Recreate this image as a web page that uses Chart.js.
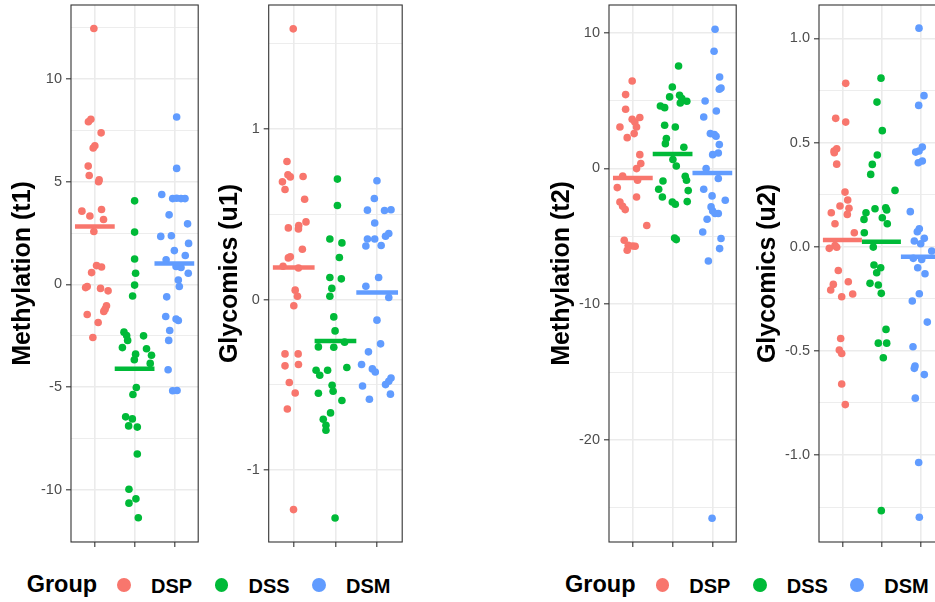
<!DOCTYPE html>
<html>
<head>
<meta charset="utf-8">
<script src="https://cdn.jsdelivr.net/npm/chart.js@4.4.1/dist/chart.umd.min.js"></script>
<style>
html,body{margin:0;padding:0;background:#fff;width:935px;height:602px;overflow:hidden;position:relative}
canvas{position:absolute;top:0}
.lg{position:absolute;font-family:'Liberation Sans',Arial,Helvetica,sans-serif;font-weight:bold;color:#000;white-space:nowrap}
.dot{position:absolute;border-radius:50%}
</style>
</head>
<body>
<canvas id="p1" width="202" height="560" style="left:0px"></canvas>
<canvas id="p2" width="208" height="560" style="left:198px"></canvas>
<canvas id="p3" width="202" height="560" style="left:538px"></canvas>
<canvas id="p4" width="200" height="560" style="left:748px"></canvas>
<script>
// ---------------- DATA ----------------
const groups = ['DSP', 'DSS', 'DSM'];
const groupColors = ['#F8766D', '#00BA38', '#619CFF'];
const legendTitle = 'Group';

// Panel 1 : Methylation (t1)
const t1Title = 'Methylation (t1)';
const t1Ticks = [-10, -5, 0, 5, 10];
const t1TickLabels = ['-10', '-5', '0', '5', '10'];
const t1Minor = [-12.5, -7.5, -2.5, 2.5, 7.5, 12.5];
const t1DSPx = [0.975,0.90,0.838,1.158,1.0,0.958,0.833,0.858,1.108,1.093,1.168,0.675,0.875,1.218,0.975,1.043,1.168,0.918,0.808,0.768,1.143,1.333,1.293,1.258,1.225,0.808,1.083,0.95];
const t1DSPy = [12.46,8.04,7.92,7.38,6.75,6.64,5.76,5.30,5.09,5.0,3.65,3.57,3.33,3.16,2.58,0.92,0.85,0.58,-0.10,-0.15,-0.19,-0.31,-1.04,-1.20,-1.31,-1.46,-1.85,-2.58];
const t1DSSx = [2.0,2.0,2.0,2.025,2.0,1.95,1.733,1.8,2.225,1.825,1.693,2.3,2.025,2.425,1.993,2.393,2.043,1.958,1.775,1.943,1.85,2.068,2.068,1.858,2.033,1.858,2.093];
const t1DSSy = [4.07,2.55,1.24,0.55,-0.03,-0.56,-2.32,-2.48,-2.50,-2.72,-3.07,-3.13,-3.39,-3.44,-3.66,-3.84,-5.01,-5.35,-6.44,-6.54,-6.88,-6.94,-8.25,-9.96,-10.43,-10.64,-11.35];
const t1DSMx = [3.058,3.058,2.683,2.958,3.058,3.168,3.268,2.868,3.333,2.658,2.925,3.358,3.0,3.275,2.793,3.043,3.168,3.35,3.1,3.125,2.808,2.783,3.043,3.1,2.883,2.858,2.843,2.958,3.068];
const t1DSMy = [8.15,5.65,4.38,4.18,4.20,4.18,4.18,3.39,2.95,2.34,2.37,2.0,1.65,1.41,1.20,0.88,0.83,0.55,0.22,-0.10,-0.60,-1.56,-1.68,-1.75,-2.24,-2.72,-4.15,-5.17,-5.16];
const t1Means = [2.82, -4.10, 1.02];

// Panel 2 : Glycomics (u1)
const u1Title = 'Glycomics (u1)';
const u1Ticks = [-1, 0, 1];
const u1TickLabels = ['-1', '0', '1'];
const u1Minor = [-0.5, 0.5, 1.5];
const u1DSPx = [0.988,0.838,0.861,0.918,0.729,1.224,0.791,1.261,1.294,1.12,1.113,0.871,1.207,0.918,0.871,0.744,1.113,1.035,1.089,1.002,0.791,1.106,0.791,1.113,0.894,1.035,0.847,0.995];
const u1DSPy = [1.587,0.809,0.731,0.719,0.690,0.721,0.645,0.588,0.455,0.434,0.414,0.42,0.295,0.25,0.244,0.195,0.185,0.055,0.019,-0.037,-0.319,-0.319,-0.389,-0.381,-0.487,-0.548,-0.642,-1.232];
const u1DSSx = [2.047,2.047,1.866,2.155,2.094,1.866,2.141,1.913,1.866,1.96,1.991,2.219,1.591,1.96,1.536,1.812,1.624,2.273,1.92,1.944,1.591,2.155,1.882,1.708,1.772,1.772,1.991];
const u1DSSy = [0.706,0.551,0.355,0.332,0.246,0.129,0.121,0.065,0.019,-0.102,-0.184,-0.25,-0.278,-0.280,-0.415,-0.415,-0.444,-0.399,-0.503,-0.538,-0.55,-0.592,-0.665,-0.702,-0.737,-0.767,-1.281];
const u1DSMx = [2.995,2.932,2.767,3.176,3.332,2.941,3.278,3.2,2.767,2.941,2.729,3.096,3.035,2.729,3.278,2.995,3.082,2.791,2.626,2.885,2.955,3.332,3.278,3.2,2.649,3.318,2.814];
const u1DSMy = [0.696,0.592,0.524,0.522,0.526,0.449,0.387,0.371,0.355,0.355,0.314,0.317,0.129,0.078,0.012,-0.121,-0.26,-0.307,-0.381,-0.407,-0.425,-0.46,-0.479,-0.499,-0.507,-0.555,-0.585];
const u1Means = [0.188, -0.243, 0.041];

// Panel 3 : Methylation (t2)
const t2Title = 'Methylation (t2)';
const t2Ticks = [-20, -10, 0, 10];
const t2TickLabels = ['-20', '-10', '0', '10'];
const t2Minor = [-25, -15, -5, 5];
const t2DSPx = [0.983,0.818,0.818,0.983,1.175,1.05,0.675,1.093,1.033,0.858,1.175,1.2,1.093,0.743,1.118,0.608,1.093,0.675,0.743,0.808,1.35,0.783,0.883,0.993,1.058,0.858];
const t2DSPy = [6.44,5.44,4.36,3.62,3.75,3.42,3.06,3.06,2.57,2.27,1.02,0.36,-0.01,-0.55,-0.87,-1.41,-2.10,-2.47,-2.78,-3.03,-4.20,-5.29,-5.66,-5.71,-5.73,-6.02];
const t2DSSx = [2.15,1.993,1.925,2.175,2.233,2.358,2.193,1.693,1.8,1.8,2.068,1.843,1.818,2.283,2.008,2.093,2.318,2.35,1.758,1.65,1.743,2.393,2.368,1.993,2.068,2.093,2.05];
const t2DSSy = [7.55,6.0,5.27,5.39,5.15,4.95,4.82,4.60,4.48,3.18,3.06,2.20,1.83,1.56,0.66,0.18,-0.57,-0.87,-0.92,-1.53,-2.10,-1.63,-2.44,-2.47,-2.64,-5.24,-5.12];
const t2DSMx = [3.068,3.043,3.183,3.218,3.175,2.818,3.1,2.783,2.95,3.05,3.093,3.175,3.15,3.008,2.843,3.15,2.783,2.993,3.325,2.968,3.008,3.15,3.068,2.868,2.758,3.218,3.183,2.9,2.993];
const t2DSMy = [10.25,8.63,6.74,5.93,5.83,4.97,4.23,3.79,2.57,2.50,2.37,1.76,1.14,1.02,-0.01,-0.74,-1.53,-2.02,-2.34,-2.83,-3.13,-3.32,-3.32,-3.74,-4.68,-5.16,-5.90,-6.81,-25.76];
const t2Means = [-0.70, 1.07, -0.33];

// Panel 4 : Glycomics (u2)
const u2Title = 'Glycomics (u2)';
const u2Ticks = [-1.0, -0.5, 0.0, 0.5, 1.0];
const u2TickLabels = ['-1.0', '-0.5', '0.0', '0.5', '1.0'];
const u2Minor = [-1.25, -0.75, -0.25, 0.25, 0.75];
const u2DSPx = [1.085,0.828,1.085,0.854,0.785,0.792,0.854,1.067,1.136,0.938,1.169,1.126,0.715,0.81,1.305,0.81,0.664,0.854,0.895,1.151,0.767,0.7,0.982,1.264,0.956,0.921,0.982,0.982,1.074];
const u2DSPy = [0.784,0.616,0.598,0.470,0.459,0.451,0.396,0.262,0.224,0.195,0.184,0.155,0.163,0.110,0.067,0.006,-0.008,-0.003,-0.114,-0.168,-0.181,-0.208,-0.240,-0.227,-0.441,-0.496,-0.513,-0.659,-0.758];
const u2DSSx = [1.99,1.887,2.023,1.895,1.767,1.726,2.349,1.836,2.11,2.136,1.605,1.554,2.023,2.151,1.562,1.792,1.81,1.982,1.879,1.708,1.921,1.997,2.118,1.921,2.136,2.049,1.997];
const u2DSSy = [0.809,0.694,0.557,0.440,0.395,0.347,0.270,0.182,0.187,0.176,0.163,0.131,0.139,0.110,0.067,-0.002,-0.088,-0.101,-0.125,-0.176,-0.184,-0.224,-0.397,-0.463,-0.463,-0.533,-1.267];
const u2DSMx = [2.964,3.092,2.956,3.049,2.879,2.964,3.049,2.946,2.741,2.972,2.921,2.844,3.1,3.008,3.29,2.818,3.033,2.931,3.118,2.972,2.792,3.177,2.81,2.862,2.844,3.1,2.869,2.956,2.972];
const u2DSMy = [1.049,0.725,0.678,0.478,0.454,0.459,0.411,0.403,0.168,0.086,0.072,0.027,0.040,0.014,-0.021,-0.056,-0.061,-0.101,-0.130,-0.226,-0.261,-0.362,-0.480,-0.573,-0.584,-0.614,-0.727,-1.036,-1.299];
const u2Means = [0.032, 0.024, -0.048];

// ---------------- CHARTS ----------------
Chart.defaults.font.family = "'Liberation Sans', Arial, Helvetica, sans-serif";
Chart.defaults.animation = false;

const panelBorder = {
  id: 'panelBorder',
  afterDatasetsDraw(chart) {
    const {ctx, chartArea: a} = chart;
    ctx.save();
    ctx.strokeStyle = '#333333';
    ctx.lineWidth = 1.1;
    ctx.strokeRect(a.left, a.top, a.right - a.left, a.bottom - a.top);
    ctx.restore();
  }
};

function makePanel(id, title, ticks, tickLabels, minor, xs, ys, means, yMin, yMax, axisW, padRight, titlePad) {
  const datasets = [];
  groups.forEach((g, i) => {
    datasets.push({
      type: 'line',
      label: g + ' mean',
      data: [{x: i + 1 - 0.5, y: means[i]}, {x: i + 1 + 0.5, y: means[i]}],
      borderColor: groupColors[i],
      borderWidth: 4.5,
      borderCapStyle: 'butt',
      pointRadius: 0,
      order: 0,
      clip: 0
    });
  });
  groups.forEach((g, i) => {
    datasets.push({
      type: 'scatter',
      label: g,
      data: xs[i].map((x, k) => ({x: x, y: ys[i][k]})),
      backgroundColor: groupColors[i],
      pointRadius: 3.8,
      pointBorderWidth: 0,
      pointHoverRadius: 3.8,
      order: 1
    });
  });
  const allY = ticks.concat(minor).sort((a, b) => a - b);
  return new Chart(document.getElementById(id), {
    type: 'scatter',
    data: {datasets},
    plugins: [panelBorder],
    options: {
      responsive: false,
      devicePixelRatio: 1,
      events: [],
      layout: {padding: {top: 5, right: padRight, bottom: 0, left: 0}},
      plugins: {legend: {display: false}, tooltip: {enabled: false}},
      scales: {
        x: {
          type: 'linear', min: 0.4, max: 3.6,
          afterBuildTicks: s => { s.ticks = groups.map((g, i) => ({value: i + 1})); },
          afterFit: s => { s.height = 18; s.paddingLeft = 0; s.paddingRight = 0; },
          ticks: {display: false},
          border: {display: false},
          grid: {color: '#ebebeb', lineWidth: 1.6, tickLength: 5, tickColor: '#333333', tickWidth: 1.1}
        },
        y: {
          type: 'linear', min: yMin, max: yMax,
          afterBuildTicks: s => { s.ticks = allY.map(v => ({value: v})); },
          afterFit: s => { s.width = axisW; s.paddingTop = 0; s.paddingBottom = 0; },
          border: {display: false},
          ticks: {
            color: '#4d4d4d', padding: 4, font: {size: 14.5},
            callback: v => { const k = ticks.indexOf(v); return k >= 0 ? tickLabels[k] : ''; }
          },
          grid: {
            color: '#ebebeb',
            lineWidth: c => (ticks.indexOf(c.tick && c.tick.value) >= 0 ? 1.6 : 0.9),
            tickLength: 5,
            tickWidth: 1.1,
            tickColor: c => (ticks.indexOf(c.tick && c.tick.value) >= 0 ? '#333333' : 'rgba(0,0,0,0)')
          },
          title: {
            display: true, text: title, color: '#000000',
            font: {size: 25, weight: 'bold', lineHeight: 1.2},
            padding: {top: titlePad, bottom: 0}
          }
        }
      }
    }
  });
}

makePanel('p1', t1Title, t1Ticks, t1TickLabels, t1Minor, [t1DSPx, t1DSSx, t1DSMx], [t1DSPy, t1DSSy, t1DSMy], t1Means, -12.53, 13.60, 71, 2.7, 8.5);
makePanel('p2', u1Title, u1Ticks, u1TickLabels, u1Minor, [u1DSPx, u1DSSx, u1DSMx], [u1DSPy, u1DSSy, u1DSMy], u1Means, -1.422, 1.727, 70.7, 3.3, 17.5);
makePanel('p3', t2Title, t2Ticks, t2TickLabels, t2Minor, [t2DSPx, t2DSSx, t2DSMx], [t2DSPy, t2DSSy, t2DSMy], t2Means, -27.51, 12.04, 71, 2.7, 9);
makePanel('p4', u2Title, u2Ticks, u2TickLabels, u2Minor, [u2DSPx, u2DSSx, u2DSMx], [u2DSPy, u2DSSy, u2DSMy], u2Means, -1.4175, 1.160, 71, 4.2, 5);

// ---------------- LEGENDS ----------------
function addLegend(x0) {
  const t = document.createElement('div');
  t.className = 'lg';
  t.textContent = legendTitle;
  t.style.cssText = `left:${x0}px;top:572.8px;font-size:23.5px;line-height:23.5px`;
  document.body.appendChild(t);
  groups.forEach((g, i) => {
    const d = document.createElement('div');
    d.className = 'dot';
    const cx = x0 + 97.5 + i * 97.3, cy = 585.3, r = 6.9;
    d.style.cssText = `left:${cx - r}px;top:${cy - r}px;width:${2 * r}px;height:${2 * r}px;background:${groupColors[i]}`;
    document.body.appendChild(d);
    const l = document.createElement('div');
    l.className = 'lg';
    l.textContent = g;
    l.style.cssText = `left:${x0 + 124.3 + i * 97.5}px;top:575.8px;font-size:20px;line-height:20px`;
    document.body.appendChild(l);
  });
}
addLegend(26.7);
addLegend(565);
</script>
</body>
</html>
